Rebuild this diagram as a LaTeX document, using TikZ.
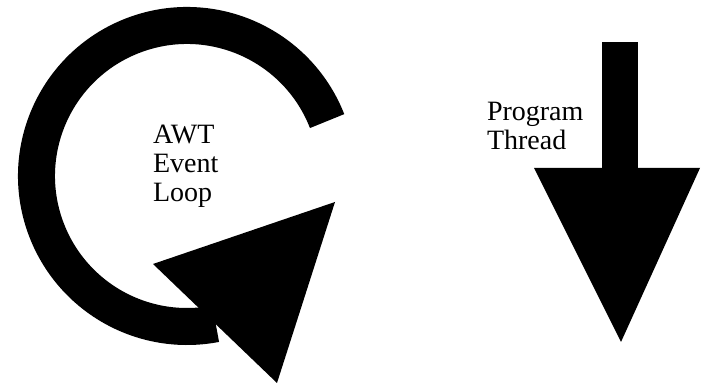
\documentclass[tikz,border=0pt]{standalone}
\usepackage{fontspec}
\setmainfont{Liberation Serif}
\begin{document}
\begin{tikzpicture}[x=0.75pt,y=0.75pt,
  lbl/.style={inner sep=0pt,outer sep=0pt,align=left,anchor=base west,
    font=\fontsize{21}{21.8}\selectfont}]
\useasboundingbox (0,0) rectangle (701,384);
% ring
\draw[line width=37*0.75pt,line cap=butt] (187,208) ++(21.4:150.5) arc[start angle=21.4,end angle=281,radius=150.5];
% arrowhead of ring
\fill (153,120) -- (335,182) -- (277,1) -- cycle;
% program thread arrow
\fill (602,342) rectangle (638,215);
\fill (534,216) -- (700,216) -- (621,42) -- cycle;
\node[lbl] (awt) at (153,182.3) {AWT\\Event\\Loop};
\node[lbl] (prog) at (487,234) {Program\\Thread};
\end{tikzpicture}
\end{document}
